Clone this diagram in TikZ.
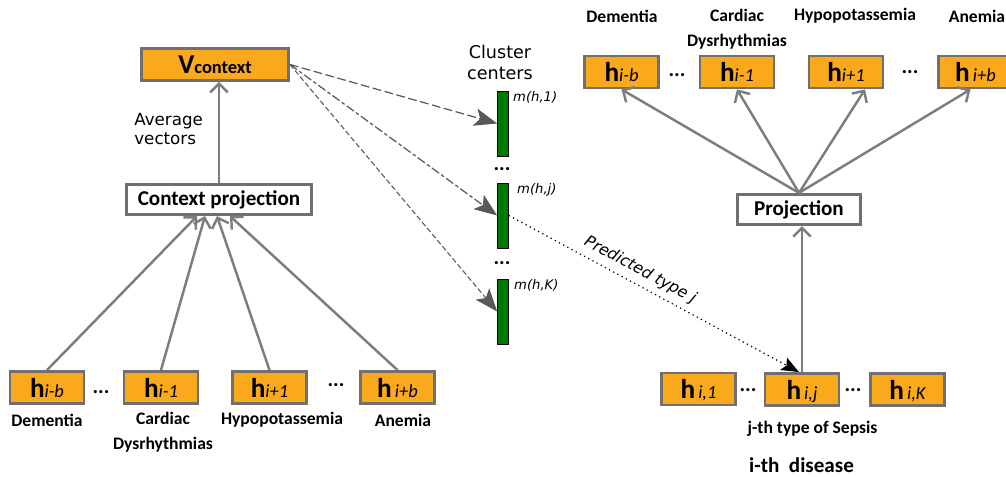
\documentclass[tikz,border=0pt]{standalone}
\usepackage{fontspec}
\setmainfont{Carlito}
\newfontfamily\dejavu{DejaVu Sans}
\usepackage{tikz}
\usepackage{xcolor}
\usetikzlibrary{arrows.meta,positioning}

\definecolor{boxorange}{RGB}{250,168,28}
\definecolor{boxgray}{RGB}{112,112,112}
\definecolor{arrgray}{RGB}{125,125,125}
\definecolor{dashgray}{RGB}{88,88,88}
\definecolor{cgreen}{RGB}{0,122,0}

\newcommand{\hvec}[1]{{\fontsize{15.5}{15.5}\selectfont\bfseries h}{\fontsize{10.5}{10.5}\selectfont\itshape #1}}

\tikzset{
	hbox/.style={draw=boxgray, line width=1.6pt, fill=boxorange, minimum width=1.48cm, minimum height=0.64cm, inner sep=0pt, text depth=0pt},
	projbox/.style={draw=boxgray, line width=1.8pt, fill=white, minimum height=0.6cm, inner sep=0pt, font=\fontsize{12}{12}\selectfont\bfseries},
	lab/.style={font=\fontsize{10}{14}\selectfont\bfseries, align=center, inner sep=0pt},
	dots/.style={font=\fontsize{12}{12}\selectfont\bfseries, inner sep=0pt},
	cbar/.style={draw=black, line width=0.4pt, fill=cgreen, minimum width=0.22cm, minimum height=1.3cm, inner sep=0pt},
	mlab/.style={font=\dejavu\itshape\fontsize{7.5}{8}\selectfont, inner sep=0pt, anchor=north west},
	arr/.style={draw=arrgray, line width=1.4pt, -{Straight Barb[length=5pt,width=10pt]}},
	clu/.style={draw=dashgray, line width=0.7pt, -{Stealth[length=13pt,width=10pt,inset=3pt]}}
}

\begin{document}
\begin{tikzpicture}
	\clip (0,0) rectangle (20.12,-9.54);

	\node[hbox, minimum width=2.94cm] (vctx) at (4.3,-1.29)
		{{\fontsize{15.5}{15.5}\selectfont\bfseries V}{\fontsize{10.5}{10.5}\selectfont\bfseries context}};
	\node[projbox, minimum width=3.7cm] (ctx) at (4.38,-3.99) {Context projection};
	\node[anchor=west, align=left, inner sep=0pt, font=\dejavu\fontsize{9.5}{11.3}\selectfont] (avg) at (2.68,-2.58) {Average\\vectors};

	\node[hbox] (lhb) at (0.94,-7.75) {\hvec{i-b}};
	\node[hbox] (lh1) at (3.22,-7.75) {\hvec{i-1}};
	\node[hbox] (lhp) at (5.39,-7.75) {\hvec{i+1}};
	\node[hbox] (lhB) at (7.95,-7.75) {\hvec{\,i+b}};
	\node[dots] (ldots1) at (2.02,-7.84) {...};
	\node[dots] (ldots2) at (6.72,-7.70) {...};
	\node[lab] (ldem) at (0.94,-8.4) {Dementia};
	\node[lab] (lcar) at (3.26,-8.65) {Cardiac\\Dysrhythmias};
	\node[lab] (lhyp) at (5.64,-8.4) {Hypopotassemia};
	\node[lab] (lane) at (8.06,-8.4) {Anemia};

	\draw[arr] (lhb.north) -- ([xshift=-0.44cm]ctx.south);
	\draw[arr] (lh1.north) -- ([xshift=-0.28cm]ctx.south);
	\draw[arr] (lhp.north) -- ([xshift=-0.04cm]ctx.south);
	\draw[arr] (lhB.north) -- ([xshift=0.22cm]ctx.south);
	\draw[arr] (ctx.north) -- (ctx.north |- vctx.south);

	\node[align=center, inner sep=0pt, font=\dejavu\fontsize{10}{12}\selectfont] (clus) at (10.0,-1.25) {Cluster\\centers};
	\node[cbar] (c1) at (10.06,-2.47) {};
	\node[cbar] (c2) at (10.06,-4.31) {};
	\node[cbar] (c3) at (10.06,-6.23) {};
	\node[dots] (cdots1) at (10.04,-3.39) {...};
	\node[dots] (cdots2) at (10.04,-5.26) {...};
	\node[mlab] (m1) at ([xshift=0.08cm]c1.north east) {m(h,1)};
	\node[mlab] (mj) at ([xshift=0.16cm]c2.north east) {m(h,j)};
	\node[mlab] (mK) at ([xshift=0.1cm]c3.north east) {m(h,K)};

	\draw[clu, dash pattern=on 5pt off 2pt] (vctx.east) -- (c1.west);
	\draw[clu, dash pattern=on 5pt off 1.5pt on 2pt off 1.5pt] (vctx.east) -- (c2.west);
	\draw[clu, line width=0.6pt, dash pattern=on 3pt off 1.5pt] (vctx.east) -- (c3.west);

	\node[hbox] (rhb) at (12.43,-1.44) {\hvec{i-b}};
	\node[hbox] (rh1) at (14.74,-1.44) {\hvec{i-1}};
	\node[hbox] (rhp) at (16.92,-1.44) {\hvec{i+1}};
	\node[hbox] (rhB) at (19.51,-1.44) {\hvec{\,i+b}};
	\node[dots] (rdots1) at (13.54,-1.5) {...};
	\node[dots] (rdots2) at (18.2,-1.44) {...};
	\node[lab] (rdem) at (12.44,-0.32) {Dementia};
	\node[lab] (rcar) at (14.74,-0.58) {Cardiac\\Dysrhythmias};
	\node[lab] (rhyp) at (17.1,-0.32) {Hypopotassemia};
	\node[lab] (rane) at (19.54,-0.32) {Anemia};

	\node[projbox, minimum width=2.46cm] (proj) at (15.98,-4.19) {Projection};
	\draw[arr] (proj.north) -- (rhb.south);
	\draw[arr] (proj.north) -- (rh1.south);
	\draw[arr] (proj.north) -- ([xshift=0.38cm]rhp.south);
	\draw[arr] (proj.north) -- ([xshift=-0.1cm]rhB.south);

	\node[hbox] (hi1) at (13.97,-7.78) {\hvec{\,i,1}};
	\node[hbox] (hij) at (16.04,-7.79) {\hvec{\,i,j}};
	\node[hbox] (hiK) at (18.15,-7.79) {\hvec{\,i,K}};
	\node[dots] (bdots1) at (14.96,-7.8) {...};
	\node[dots] (bdots2) at (17.06,-7.8) {...};
	\node[lab] (sep) at (16.25,-8.58) {j-th type of Sepsis};
	\node[lab, font=\fontsize{12}{12}\selectfont\bfseries] (dis) at (16.03,-9.3) {i-th\ \ disease};

	\draw[arr] (hij.north) -- (hij.north |- proj.south);
	\draw[black, dotted, line width=0.7pt, -{Stealth[length=10pt,width=8pt,inset=2pt]}] (c2.east) --
		node[pos=0.43, sloped, above, font=\dejavu\itshape\fontsize{9}{9}\selectfont] (pred) {Predicted type j}
		([xshift=-0.06cm]hij.north);
\end{tikzpicture}
\end{document}
